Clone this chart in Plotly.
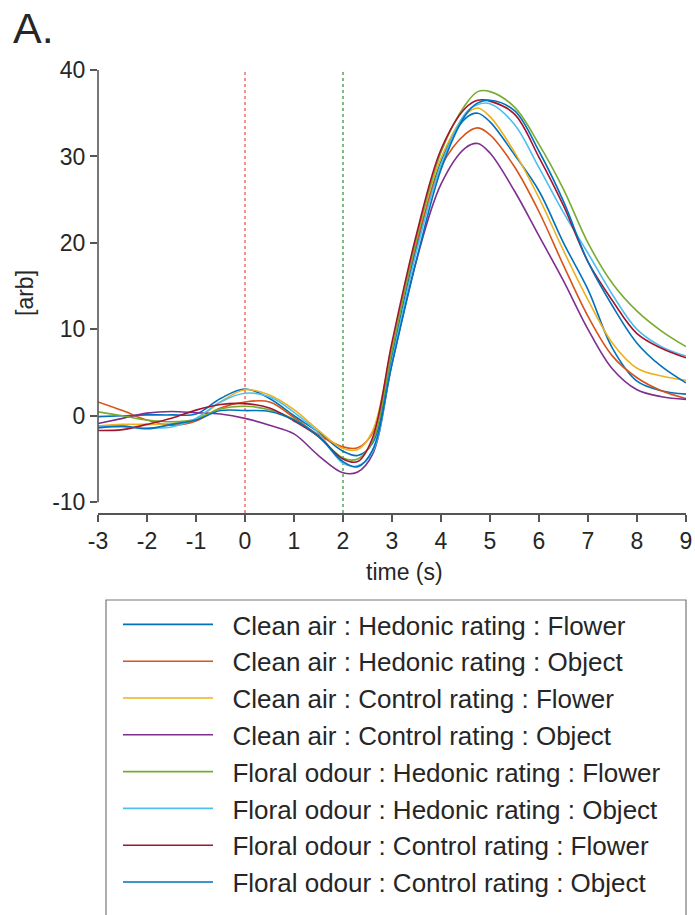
import plotly.graph_objects as go

# time grid (s)
time_s = [-3, -2.5, -2, -1.5, -1, -0.5, 0, 0.5, 1, 1.5, 2, 2.3, 2.6, 3, 3.5, 4, 4.5, 4.75, 5, 5.5, 6, 6.5, 7, 7.5, 8, 8.5, 9]

series_names = [
    "Clean air : Hedonic rating : Flower",
    "Clean air : Hedonic rating : Object",
    "Clean air : Control rating : Flower",
    "Clean air : Control rating : Object",
    "Floral odour : Hedonic rating : Flower",
    "Floral odour : Hedonic rating : Object",
    "Floral odour : Control rating : Flower",
    "Floral odour : Control rating : Object",
]

clean_hedonic_flower = [-0.1, 0.0, 0.1, 0.1, 0.2, 2.0, 3.1, 2.0, 0.0, -1.9, -4.1, -4.6, -3.2, 7.0, 19.5, 29.5, 34.4, 35.0, 34.0, 30.2, 26.0, 20.0, 14.6, 7.8, 4.0, 2.9, 2.5]
clean_hedonic_object = [1.6, 0.6, -0.5, -1.1, -0.6, 0.9, 1.6, 1.6, -0.2, -2.2, -3.6, -3.7, -2.0, 7.8, 20.0, 28.8, 32.6, 33.3, 32.5, 28.8, 23.6, 17.4, 11.5, 6.9, 4.4, 2.9, 2.0]
clean_control_flower = [-1.2, -1.0, -1.0, -0.9, -0.4, 1.6, 3.0, 2.4, 0.7, -1.7, -3.8, -3.9, -1.8, 8.0, 20.5, 29.8, 34.8, 35.6, 34.6, 30.5, 25.2, 19.1, 13.4, 8.4, 5.5, 4.6, 4.1]
clean_control_object = [-0.9, -0.3, 0.3, 0.5, 0.35, 0.2, -0.3, -1.1, -2.1, -4.6, -6.6, -6.5, -4.5, 6.0, 18.0, 26.8, 31.0, 31.5, 30.4, 26.0, 20.8, 15.6, 10.0, 5.4, 3.0, 2.2, 1.9]
floral_hedonic_flower = [0.45, 0.0, -0.5, -0.7, -0.4, 0.8, 1.1, 0.7, -0.4, -2.4, -4.9, -5.0, -3.0, 7.5, 20.5, 30.5, 36.0, 37.5, 37.5, 35.7, 31.4, 26.2, 20.0, 15.3, 12.1, 9.8, 8.0]
floral_hedonic_object = [-1.2, -1.3, -1.4, -1.3, -0.3, 1.6, 2.6, 2.2, 0.4, -2.0, -5.5, -5.8, -4.2, 6.3, 19.0, 29.0, 35.0, 36.0, 36.1, 33.7, 28.7, 23.5, 18.8, 14.0, 10.0, 8.0, 6.9]
floral_control_flower = [-1.7, -1.6, -1.0, -0.3, 0.65, 1.3, 1.4, 0.9, -0.6, -2.4, -5.0, -5.3, -2.6, 8.5, 21.0, 30.8, 35.6, 36.5, 36.4, 34.9, 29.9, 24.3, 17.8, 13.3, 9.5, 7.8, 6.7]
floral_control_object = [-1.4, -1.2, -1.5, -1.0, -0.5, 0.6, 0.6, 0.5, -0.5, -2.4, -5.3, -5.9, -4.0, 6.0, 18.0, 28.5, 34.8, 36.2, 36.5, 35.3, 30.6, 24.8, 17.8, 12.7, 8.4, 5.7, 3.8]

series_values = [
    clean_hedonic_flower, clean_hedonic_object, clean_control_flower, clean_control_object,
    floral_hedonic_flower, floral_hedonic_object, floral_control_flower, floral_control_object,
]
colors = ["#0072BD", "#D95319", "#EDB120", "#7E2F8E", "#77AC30", "#4DBEEE", "#A2142F", "#0072BD"]

x_ticks = [-3, -2, -1, 0, 1, 2, 3, 4, 5, 6, 7, 8, 9]
y_ticks = [-10, 0, 10, 20, 30, 40]
event_times = [0, 2]
event_colors = ["#F07878", "#5FA864"]

FONT = "Liberation Sans, Arial, Helvetica, sans-serif"
TXT = "#262626"
AX = "#555555"
NB = "\u00a0\u00a0"

fig = go.Figure()
for name, vals, col in zip(series_names, series_values, colors):
    fig.add_trace(go.Scatter(x=time_s, y=vals, mode="lines", name=NB + name,
                             line=dict(color=col, width=1.6, shape="spline", smoothing=1.0)))

Y0, Y1 = -11.25, 40
shapes = []
for t, c in zip(event_times, event_colors):
    shapes.append(dict(type="line", xref="x", yref="y", x0=t, x1=t, y0=Y0, y1=40,
                       line=dict(color=c, width=1.6, dash="dot"), layer="below"))
# detached y-axis line
shapes.append(dict(type="line", xref="paper", yref="y", x0=0, x1=0, y0=-10, y1=40,
                   line=dict(color=AX, width=1.6)))
# legend frame
shapes.append(dict(type="rect", xref="paper", yref="paper",
                   x0=(106 - 98) / 588, x1=1.0, y0=(513 - 940) / 443, y1=(513 - 600) / 443,
                   line=dict(color="#777777", width=1.2), fillcolor="rgba(0,0,0,0)"))

fig.update_layout(
    width=695, height=915,
    margin=dict(l=98, r=9, t=70, b=402, autoexpand=False),
    paper_bgcolor="white", plot_bgcolor="white",
    font=dict(family=FONT, color=TXT, size=23),
    showlegend=True,
    legend=dict(x=(118 - 98) / 588, y=(513 - 601) / 443, xanchor="left", yanchor="top",
                bgcolor="rgba(0,0,0,0)", borderwidth=0, itemwidth=90,
                font=dict(family=FONT, size=26, color=TXT), tracegroupgap=0),
    shapes=shapes,
    xaxis=dict(range=[-3, 9], tickvals=x_ticks, ticktext=[str(v) for v in x_ticks],
               showgrid=False, zeroline=False, showline=True, linecolor=AX, linewidth=1.6,
               ticks="outside", ticklen=7, tickwidth=1.6, tickcolor=AX, ticklabeloverflow="allow",
               tickfont=dict(size=23, color=TXT, family=FONT)),
    yaxis=dict(range=[Y0, Y1], tickvals=y_ticks, ticktext=[str(v) for v in y_ticks],
               showgrid=False, zeroline=False, showline=False,
               ticks="outside", ticklen=7, tickwidth=1.6, tickcolor=AX,
               tickfont=dict(size=23, color=TXT, family=FONT)),
    annotations=[
        dict(text="time (s)", xref="paper", yref="paper", x=(404 - 98) / 588, y=(513 - 572) / 443,
             showarrow=False, xanchor="center", yanchor="middle", font=dict(size=23, color=TXT, family=FONT)),
        dict(text="[arb]", xref="paper", yref="paper", x=(25 - 98) / 588, y=(513 - 293) / 443,
             showarrow=False, textangle=-90, xanchor="center", yanchor="middle",
             font=dict(size=23, color=TXT, family=FONT)),
        dict(text="A.", xref="paper", yref="paper", x=(11 - 98) / 588, y=(513 - 2) / 443,
             showarrow=False, xanchor="left", yanchor="top", font=dict(size=43, color=TXT, family=FONT)),
    ],
)

fig.write_html("out.html", config={"displayModeBar": False},
               post_script="document.body.style.margin='0';document.body.style.overflow='hidden';")
